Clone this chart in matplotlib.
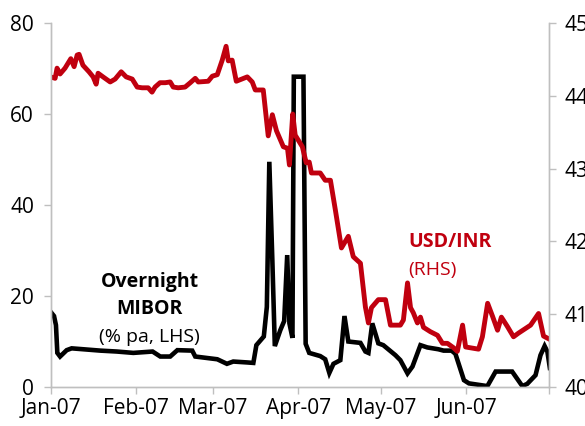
import matplotlib.pyplot as plt

plt.rcParams['font.family'] = ['Open Sans', 'DejaVu Sans']

# days since 1 Jan 2007
mibor_day = [0, 1.2, 1.9, 2.4, 3.4, 5.8, 7.6, 11.8, 18.0, 24.0, 30.0, 37.0, 39.8, 43.4,
             46.0, 51.4, 52.5, 60.5, 64.0, 66.3, 71.4, 73.6, 74.7, 77.4, 78.5, 79.4,
             80.5, 81.4, 83.4, 84.8, 85.9, 86.7, 87.8, 88.3, 91.8, 92.6, 93.9, 97.9,
             99.7, 101.2, 102.7, 105.2, 106.7, 108.1, 112.5, 114.3, 115.4, 116.8, 119.0,
             120.8, 125.2, 127.0, 129.6, 131.4, 134.3, 136.8, 140.8, 142.7, 145.6, 147.0,
             150.1, 151.9, 158.6, 161.6, 167.6, 171.3, 173.1, 176.1, 177.9, 179.4, 180.4,
             181.3]
mibor = [16.5, 15.6, 13.6, 7.5, 6.7, 8.1, 8.5, 8.3, 8.0, 7.8, 7.5, 7.8, 6.7, 6.7,
         8.1, 8.0, 6.7, 6.1, 5.1, 5.6, 5.4, 5.3, 9.2, 11.1, 17.6, 49.5,
         27.9, 9.0, 12.5, 14.5, 29.0, 14.0, 10.8, 68.2, 68.2, 9.5, 7.5, 6.8,
         6.1, 3.1, 5.1, 5.9, 15.6, 10.0, 9.7, 7.8, 7.5, 14.0, 9.6,
         9.2, 7.0, 5.9, 3.0, 4.5, 9.2, 8.7, 8.3, 8.0, 8.0, 7.3,
         1.5, 0.8, 0.2, 3.4, 3.4, 0.2, 0.7, 2.6, 7.0, 9.0, 7.8,
         4.2]

inr_day = [0, 1.6, 2.3, 3.4, 5.2, 7.3, 8.5, 9.6, 10.3, 11.7,
           13.9, 15.4, 16.5, 17.2, 19.0, 21.6, 23.4, 25.6, 27.4, 29.6,
           31.4, 33.2, 35.4, 36.8, 37.9, 39.7, 41.6, 43.4, 44.5, 46.3,
           48.8, 50.7, 52.5, 53.6, 57.2, 58.7, 60.5, 62.3, 63.7, 64.5,
           65.9, 67.4, 71.4, 73.2, 74.3, 77.2, 79.0, 80.5, 82.0, 84.5,
           86.0, 86.7, 87.9, 88.8, 91.4, 92.8, 93.9, 94.7, 97.9, 99.7,
           101.6, 103.4, 105.6, 108.1, 109.9, 112.5, 114.3, 115.4, 116.5, 119.0,
           121.6, 123.4, 127.0, 128.1, 129.6, 130.7, 131.7, 133.2, 134.3, 135.4,
           137.9, 140.5, 142.3, 144.1, 146.3, 147.7, 149.6, 150.7, 155.4, 156.8,
           158.7, 160.5, 162.3, 163.7, 165.9, 168.1, 169.9, 174.3, 177.2, 179.0,
           181.0]
usd_inr = [44.26, 44.24, 44.38, 44.30, 44.38, 44.51, 44.40, 44.56, 44.57, 44.42,
           44.33, 44.26, 44.16, 44.31, 44.26, 44.19, 44.23, 44.33, 44.26, 44.23,
           44.12, 44.11, 44.11, 44.05, 44.12, 44.18, 44.18, 44.19, 44.12, 44.11,
           44.12, 44.18, 44.24, 44.19, 44.20, 44.27, 44.29, 44.49, 44.68, 44.48,
           44.49, 44.20, 44.26, 44.19, 44.08, 44.08, 43.45, 43.74, 43.52, 43.30,
           43.28, 43.05, 43.75, 43.46, 43.30, 43.08, 43.09, 42.94, 42.94, 42.84,
           42.84, 42.43, 41.91, 42.07, 41.79, 41.70, 41.10, 40.88, 41.09, 41.20,
           41.20, 40.85, 40.85, 40.92, 41.43, 41.09, 41.02, 40.88, 40.96, 40.82,
           40.76, 40.71, 40.60, 40.60, 40.54, 40.49, 40.85, 40.55, 40.52, 40.69,
           41.15, 40.97, 40.78, 40.96, 40.83, 40.69, 40.74, 40.85, 41.01, 40.70,
           40.66]

month_ticks = [0, 31, 59, 90, 120, 151, 181]
month_labels = ['Jan-07', 'Feb-07', 'Mar-07', 'Apr-07', 'May-07', 'Jun-07', '']

red = '#C0000F'
grey = '#BFBFBF'

fig = plt.figure(figsize=(5.85, 4.26), dpi=100)
ax = fig.add_axes([0.0867, 0.0915, 0.8518, 0.8545])
ax2 = ax.twinx()

ax.plot(mibor_day, mibor, color='black', lw=3.3, solid_joinstyle='miter')
ax2.plot(inr_day, usd_inr, color=red, lw=3.5)

ax.set_xlim(0, 181)
ax.set_ylim(0, 80)
ax2.set_ylim(40, 45)
ax.set_yticks([0, 20, 40, 60, 80])
ax2.set_yticks([40, 41, 42, 43, 44, 45])
ax.set_xticks(month_ticks)
ax.set_xticklabels(month_labels)

for a in (ax, ax2):
    a.spines['top'].set_visible(False)
    for s in ('left', 'right', 'bottom'):
        a.spines[s].set_color(grey)
        a.spines[s].set_linewidth(1)
    a.tick_params(axis='both', colors=grey, labelcolor='black', labelsize=15,
                  length=5, width=1)
ax.tick_params(axis='y', pad=7)
ax2.tick_params(axis='y', pad=6)
ax.tick_params(axis='x', pad=3)

ax.text(36, 23.1, 'Overnight', fontsize=14, fontweight='bold', ha='center', va='center')
ax.text(36, 17.1, 'MIBOR', fontsize=14, fontweight='bold', ha='center', va='center')
ax.text(36, 11.0, '(% pa, LHS)', fontsize=14, ha='center', va='center')
ax.text(130, 31.9, 'USD/INR', fontsize=14, fontweight='bold', color=red, ha='left', va='center')
ax.text(130, 25.7, '(RHS)', fontsize=14, color=red, ha='left', va='center')

fig.savefig('out.png', dpi=100)
